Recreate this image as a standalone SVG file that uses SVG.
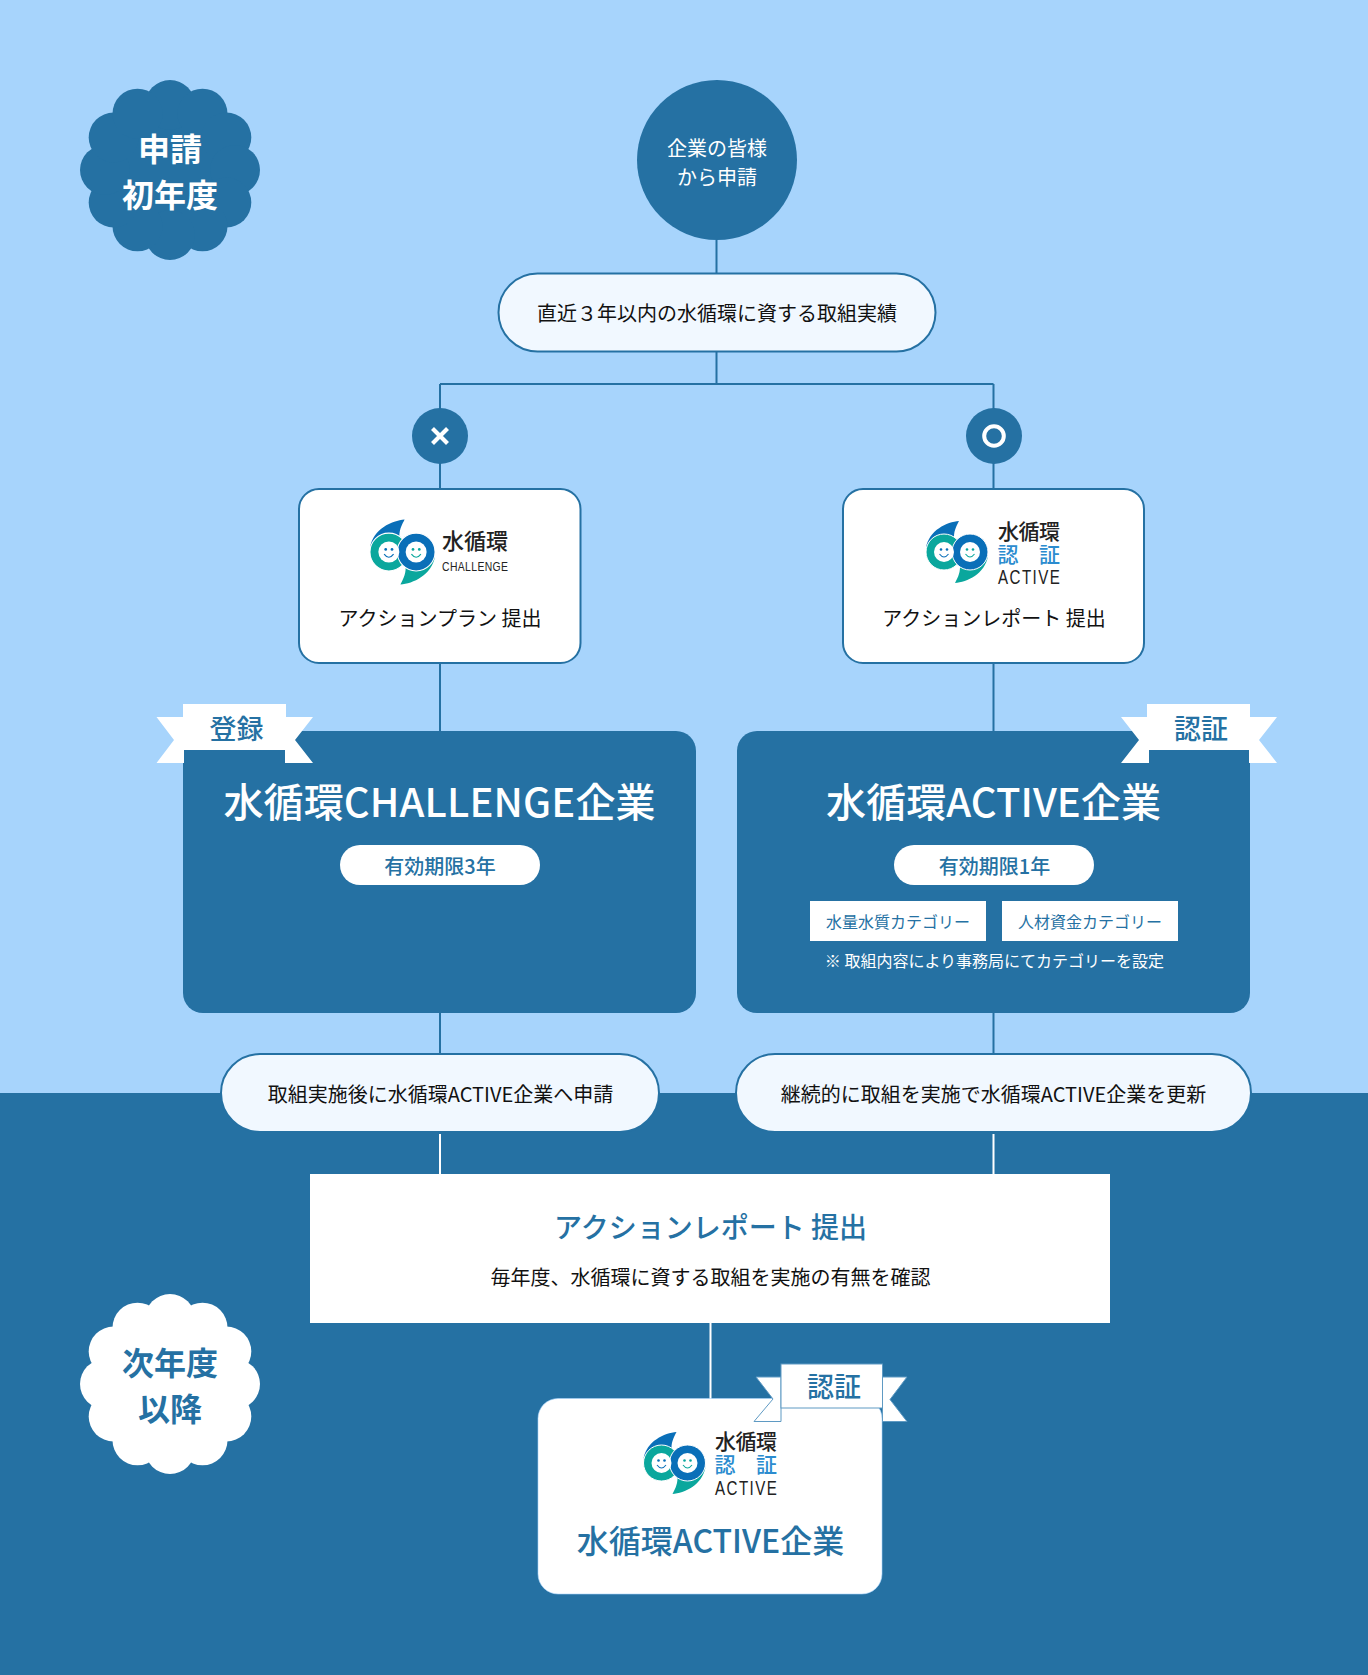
<svg xmlns="http://www.w3.org/2000/svg" xmlns:xlink="http://www.w3.org/1999/xlink" width="1368" height="1675" viewBox="0 0 1368 1675">
<style>
text{font-family:"Noto Sans CJK JP","Noto Sans",sans-serif;text-anchor:middle}
.w{fill:#fff}.d{fill:#2571a3}.k{fill:#111}
.m{font-weight:500}.b{font-weight:700}
.s16{font-size:16px}.s20{font-size:20px}.s27{font-size:27px}.s28{font-size:28px}.s32{font-size:32px}.s40{font-size:40px}
.cd{stroke:#2571a3;stroke-width:2;fill:none}
.cw{stroke:#fff;stroke-width:2;fill:none}
.pill{fill:#f1f8ff;stroke:#2571a3;stroke-width:2}
.box{fill:#fff;stroke:#2571a3;stroke-width:2}
.rib{fill:#fff}
.ribl{fill:#fff;stroke:#5f9ac3;stroke-width:1}
.lt{font-family:"Liberation Sans",sans-serif;text-anchor:start;fill:#222}
.lj{text-anchor:start;fill:#222;font-weight:500}
.lb{text-anchor:start;fill:#2b8ccf;font-weight:500}
</style>
<defs>
<g id="cloud">
<circle r="71"/>
<circle cx="0" cy="-65" r="25"/><circle cx="32.500" cy="-56.300" r="25"/><circle cx="56.300" cy="-32.500" r="25"/>
<circle cx="65" cy="0" r="25"/><circle cx="56.300" cy="32.500" r="25"/><circle cx="32.500" cy="56.300" r="25"/>
<circle cx="0" cy="65" r="25"/><circle cx="-32.500" cy="56.300" r="25"/><circle cx="-56.300" cy="32.500" r="25"/>
<circle cx="-65" cy="0" r="25"/><circle cx="-56.300" cy="-32.500" r="25"/><circle cx="-32.500" cy="-56.300" r="25"/>
</g>
<g id="mark">
<path fill="#0a6fb8" d="M2-31C-10-30-28-22-31-4C-27-14-14-20-3-15C-3-22 0-27 2-31Z"/>
<path fill="#0aa79d" d="M-2 31C10 30 28 22 31 4C27 14 14 20 3 15C3 22 0 27-2 31Z"/>
<circle cx="-13" cy="0" r="18" fill="#0aa79d" stroke="#fff" stroke-width="1"/>
<circle cx="13" cy="0" r="18" fill="#0a6fb8" stroke="#fff" stroke-width="1"/>
<circle cx="-13" cy="0" r="10" fill="#fff"/>
<circle cx="13" cy="0" r="10" fill="#fff"/>
<circle cx="-16" cy="-2.500" r="1.300" fill="#0a6fb8"/><circle cx="-10" cy="-2.500" r="1.300" fill="#0a6fb8"/>
<circle cx="10" cy="-2.500" r="1.300" fill="#0aa79d"/><circle cx="16" cy="-2.500" r="1.300" fill="#0aa79d"/>
<path d="M-17.500 2Q-13 8-8.500 2" fill="none" stroke="#0a6fb8" stroke-width="1.100"/>
<path d="M8.500 2Q13 8 17.500 2" fill="none" stroke="#0aa79d" stroke-width="1.100"/>
</g>
</defs>

<rect id="band-upper" x="0" y="0" width="1368" height="1093" fill="#a7d4fc"/>
<rect id="band-lower" x="0" y="1093" width="1368" height="582" fill="#2571a3"/>

<g id="connectors">
<path class="cd" d="M716.500 240V273M716.500 351V384M440 384H993.500M440 384V489M993.500 384V489M440 663V731M993.500 663V731M440 1013V1054M993.500 1013V1054"/>
<path class="cw" d="M440 1134V1174M993.500 1134V1174M710.500 1323V1399"/>
</g>

<g id="badge-first"><use xlink:href="#cloud" href="#cloud" x="170" y="170" fill="#2571a3"/>
<text class="w b s32" x="170" y="161">申請</text><text class="w b s32" x="170" y="207">初年度</text></g>

<g id="badge-next"><use xlink:href="#cloud" href="#cloud" x="170" y="1384" fill="#fff"/>
<text class="d b s32" x="170" y="1375">次年度</text><text class="d b s32" x="170" y="1421">以降</text></g>

<g id="start"><circle cx="717" cy="160" r="80" fill="#2571a3"/>
<text class="w s20" x="717" y="156">企業の皆様</text><text class="w s20" x="717" y="185">から申請</text></g>

<g id="criteria"><rect class="pill" x="498.500" y="273.500" width="437" height="78" rx="39"/>
<text class="k s20" x="717" y="321">直近３年以内の水循環に資する取組実績</text></g>

<g id="no"><circle cx="440" cy="436" r="28" fill="#2571a3"/>
<path d="M432.500 428.500L447.500 443.500M447.500 428.500L432.500 443.500" stroke="#fff" stroke-width="4.200" fill="none"/></g>

<g id="yes"><circle cx="994" cy="436" r="28" fill="#2571a3"/>
<circle cx="994" cy="436" r="9.800" fill="none" stroke="#fff" stroke-width="4"/></g>

<g id="plan"><rect class="box" x="299" y="489" width="281.500" height="174" rx="20"/>
<use xlink:href="#mark" href="#mark" transform="translate(402.500 552) scale(1.050)"/>
<text class="lj" font-size="22" x="442" y="549" textLength="66">水循環</text>
<text class="lt" font-size="13" transform="translate(442 571) scale(.8 1)" textLength="82.500">CHALLENGE</text>
<text class="k s20" x="440" y="626">アクションプラン 提出</text></g>

<g id="report"><rect class="box" x="843" y="489" width="301" height="174" rx="20"/>
<use xlink:href="#mark" href="#mark" transform="translate(957 552)"/>
<text class="lj" font-size="21" x="998" y="539" textLength="62">水循環</text>
<text class="lb" font-size="21" x="997.500" y="562">認</text><text class="lb" font-size="21" x="1039" y="562">証</text>
<text class="lt" font-size="21" transform="translate(998 584) scale(.72 1)" textLength="86">ACTIVE</text>
<text class="k s20" x="994" y="626">アクションレポート 提出</text></g>

<g id="challenge"><rect class="d" x="183" y="731" width="513" height="282" rx="20"/>
<path class="rib" d="M156.500 717H184V763H156.500L174 740ZM285 717H313L295 740L313 763H285Z"/>
<rect class="rib" x="183" y="704" width="103" height="46"/>
<text class="d m s27" x="236.500" y="739">登録</text>
<text class="w m s40" x="439.500" y="817" textLength="432">水循環CHALLENGE企業</text>
<rect class="w" x="340" y="845" width="200" height="40" rx="20"/>
<text class="d m s20" x="440" y="874">有効期限3年</text></g>

<g id="active"><rect class="d" x="737" y="731" width="513" height="282" rx="20"/>
<path class="rib" d="M1121 717H1149V763H1121L1139 740ZM1249 717H1277L1259 740L1277 763H1249Z"/>
<rect class="rib" x="1147" y="704" width="103" height="46"/>
<text class="d m s27" x="1201" y="739">認証</text>
<text class="w m s40" x="993.500" y="817" textLength="335">水循環ACTIVE企業</text>
<rect class="w" x="894" y="845" width="200" height="40" rx="20"/>
<text class="d m s20" x="994.500" y="874">有効期限1年</text>
<rect class="w" x="810" y="901" width="176" height="40"/>
<text class="d s16" x="898" y="928">水量水質カテゴリー</text>
<rect class="w" x="1002" y="901" width="176" height="40"/>
<text class="d s16" x="1090" y="928">人材資金カテゴリー</text>
<text class="w s16" x="994.500" y="967">※ 取組内容により事務局にてカテゴリーを設定</text></g>

<g id="apply"><rect class="pill" x="221" y="1054" width="438" height="78" rx="39"/>
<text class="k s20" x="440.500" y="1102">取組実施後に水循環ACTIVE企業へ申請</text></g>

<g id="renew"><rect class="pill" x="736" y="1054" width="515" height="78" rx="39"/>
<text class="k s20" x="993.500" y="1102">継続的に取組を実施で水循環ACTIVE企業を更新</text></g>

<g id="annual"><rect class="w" x="310" y="1174" width="800" height="149"/>
<text class="d m s28" x="710.500" y="1238">アクションレポート 提出</text>
<text class="k s20" x="710.500" y="1285">毎年度、水循環に資する取組を実施の有無を確認</text></g>

<g id="certified"><rect class="w" x="538" y="1398.500" width="344" height="195.500" rx="20" stroke="#a7d4fc" stroke-width=".6"/>
<use xlink:href="#mark" href="#mark" transform="translate(674.500 1463)"/>
<text class="lj" font-size="21" x="715" y="1449" textLength="62">水循環</text>
<text class="lb" font-size="21" x="714.500" y="1472">認</text><text class="lb" font-size="21" x="756" y="1472">証</text>
<text class="lt" font-size="21" transform="translate(715 1495) scale(.72 1)" textLength="86">ACTIVE</text>
<text class="d m s32" x="710.500" y="1553">水循環ACTIVE企業</text>
<path class="ribl" d="M756 1377H781V1421.500H754L773 1399ZM882.500 1377H907L890 1399.500L907 1421.500H882.500Z"/>
<rect class="ribl" x="781" y="1364" width="101.500" height="44"/>
<text class="d m s27" x="834" y="1397">認証</text></g>
</svg>
